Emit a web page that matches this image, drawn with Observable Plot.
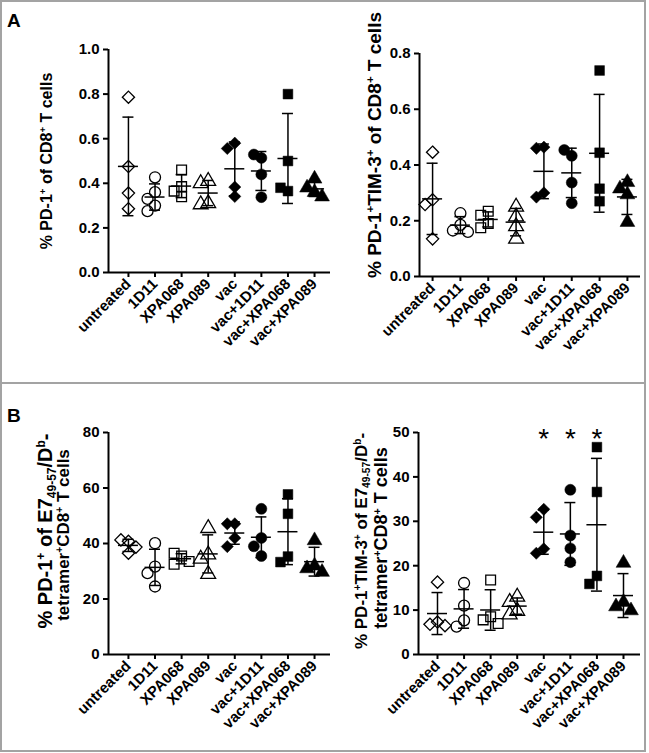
<!DOCTYPE html>
<html><head><meta charset="utf-8">
<script src="https://cdn.jsdelivr.net/npm/d3@7"></script>
<script src="https://cdn.jsdelivr.net/npm/@observablehq/plot@0.6"></script>
<style>
body{margin:0;background:#fff;}
#fig{position:relative;width:649px;height:753px;font-family:"Liberation Sans",Arial,Helvetica,sans-serif;font-weight:bold;color:#000;overflow:hidden;background:#fff}
.frame{position:absolute;pointer-events:none;background:#a3a3a3;z-index:5}
.ylab{position:absolute;white-space:nowrap;transform:translate(-50%,-50%) rotate(-90deg);text-align:center;line-height:1;z-index:4}
.ylab sup{font-size:60%;line-height:0;vertical-align:0;position:relative;top:-0.6em}
.ylab sub{font-size:60%;line-height:0;vertical-align:0;position:relative;top:0.3em}
.letter{position:absolute;font-size:19px;line-height:1;z-index:4}
</style></head><body><div id="fig"></div>
<script>
// ---- data ----
const groups = ["untreated","1D11","XPA068","XPA089","vac","vac+1D11","vac+XPA068","vac+XPA089"];
const pd1OfCD8 = [
  [0.786,0.475,0.356,0.286],[0.427,0.36,0.33,0.30,0.275],[0.46,0.385,0.365,0.34],[0.41,0.40,0.31,0.305],
  [0.58,0.556,0.383,0.341],[0.514,0.529,0.44,0.338],[0.80,0.50,0.365,0.38],[0.42,0.38,0.36,0.34]];
const pd1Tim3OfCD8 = [
  [0.446,0.275,0.258,0.135],[0.227,0.185,0.165,0.16],[0.234,0.22,0.19,0.175],[0.25,0.215,0.18,0.135],
  [0.464,0.46,0.30,0.285],[0.433,0.454,0.337,0.263],[0.739,0.444,0.27,0.315],[0.338,0.315,0.294,0.195]];
const pd1OfTet = [
  [40.8,41.3,38.7,36.5],[40.1,31.7,29.3,24.5],[35.5,32.5,36.5,33.5],[45.5,36,34.5,29],
  [47.1,47.1,42.0,38.9],[52.5,42,39,35.5],[57.7,50.7,35.3,33.3],[41.1,32,31,29.7]];
const pd1Tim3OfTet = [
  [16.3,7.3,6.8,6.5],[16.1,11.0,7.7,6.3],[16.8,8.5,7.8,7.0],[13.0,11.8,9.8,9.0],
  [32.7,30.9,23.8,22.8],[37.1,26.8,23.9,20.8],[46.7,36.6,17.7,15.9],[20.6,11.8,10.8,9.9]];
const ticksA1 = [0,0.2,0.4,0.6,0.8,1.0];
const ticksA2 = [0,0.2,0.4,0.6,0.8];
const ticksB1 = [0,20,40,60,80];
const ticksB2 = [0,10,20,30,40,50];
const significantB2 = ["vac","vac+1D11","vac+XPA068"];

// ---- styling ----
const FONT = "'Liberation Sans', Arial, Helvetica, sans-serif";
const symbolOf = ["diamond2","circle","square","triangle","diamond2","circle","square","triangle"];
const filledOf = [false,false,false,false,true,true,true,true];
const fig = document.getElementById("fig");

// simple column-scatter: put a point in the first lane with no near neighbour
function lanes(values, pxPerUnit, gap) {
  const placed = [];
  return values.map(v => {
    for (const lane of [0,-1,1,-2,2,-3,3]) {
      if (placed.every(p => p.lane !== lane || Math.abs(p.v - v) * pxPerUnit >= gap)) {
        placed.push({lane, v}); return lane;
      }
    }
    return 0;
  });
}

function panel(o) {
  const plotH = o.height - o.mT - o.mB;
  const plotW = o.width - o.mL - o.mR;
  const pxPerX = plotW / (o.xDomain[1] - o.xDomain[0]);
  const pxPerY = plotH / o.yMax;
  const laneW = 7.5 / pxPerX;
  const points = [];
  o.values.forEach((vals, i) => {
    const ls = lanes(vals, pxPerY, 9);
    vals.forEach((v, k) => points.push({i, v, x: i + ls[k] * laneW, symbol: symbolOf[i], filled: filledOf[i]}));
  });
  const stats = o.values.map((vals, i) => ({i, mean: d3.mean(vals), sd: d3.deviation(vals)}));
  const caps = stats.flatMap(s => [{i: s.i, y: s.mean - s.sd}, {i: s.i, y: s.mean + s.sd}]);
  const meanHalf = 10 / pxPerX, capHalf = 5.5 / pxPerX;
  const marks = [
    Plot.axisY({ticks: o.yTicks, tickFormat: o.yFormat, tickSize: 5, tickPadding: 4, strokeWidth: 2, fontSize: 15, label: null}),
    Plot.axisX({ticks: d3.range(groups.length), tickFormat: i => groups[i], tickRotate: -45, tickSize: 5, tickPadding: 4, strokeWidth: 2, fontSize: 15, label: null}),
    Plot.ruleY([0], {strokeWidth: 2}),
    Plot.ruleX([o.xDomain[0]], {y1: 0, y2: o.yMax, strokeWidth: 2}),
    Plot.ruleX(stats, {x: "i", y1: d => d.mean - d.sd, y2: d => d.mean + d.sd, strokeWidth: 1.5}),
    Plot.ruleY(stats, {y: "mean", x1: d => d.i - meanHalf, x2: d => d.i + meanHalf, strokeWidth: 1.5}),
    Plot.ruleY(caps, {y: "y", x1: d => d.i - capHalf, x2: d => d.i + capHalf, strokeWidth: 1.5}),
    Plot.dot(points.filter(d => !d.filled), {x: "x", y: "v", symbol: "symbol", r: 5.5, fill: "none", stroke: "black", strokeWidth: 1.3}),
    Plot.dot(points.filter(d => d.filled), {x: "x", y: "v", symbol: "symbol", r: 5.5, fill: "black", stroke: "black", strokeWidth: 0.5})
  ];
  if (o.stars) marks.push(Plot.text(o.stars, {x: d => groups.indexOf(d), y: o.yMax, text: () => "*", fontSize: 28, fontWeight: "normal", dy: 7}));
  const svg = Plot.plot({
    width: o.width, height: o.height,
    marginLeft: o.mL, marginRight: o.mR, marginTop: o.mT, marginBottom: o.mB,
    x: {type: "linear", domain: o.xDomain},
    y: {type: "linear", domain: [0, o.yMax]},
    symbol: {type: "identity"},
    style: {fontFamily: FONT, fontWeight: "bold", fontSize: "15px", background: "transparent", overflow: "visible", color: "black"},
    marks
  });
  svg.style.position = "absolute";
  svg.style.left = o.left + "px";
  svg.style.top = o.top + "px";
  fig.appendChild(svg);
}

const f1 = d3.format(".1f"), f0 = d3.format("d");
panel({values: pd1OfCD8, yMax: 1.0, yTicks: ticksA1, yFormat: f1, left: 0, top: 0, width: 330, height: 380, mL: 108, mR: 0, mT: 49, mB: 108, xDomain: [-0.75, 7.6]});
panel({values: pd1Tim3OfCD8, yMax: 0.8, yTicks: ticksA2, yFormat: f1, left: 330, top: 0, width: 319, height: 380, mL: 89, mR: 9, mT: 53, mB: 104, xDomain: [-0.47, 7.47]});
panel({values: pd1OfTet, yMax: 80, yTicks: ticksB1, yFormat: f0, left: 0, top: 384, width: 330, height: 369, mL: 108, mR: 0, mT: 48, mB: 99, xDomain: [-0.75, 7.6]});
panel({values: pd1Tim3OfTet, yMax: 50, yTicks: ticksB2, yFormat: f0, left: 330, top: 384, width: 319, height: 369, mL: 88, mR: 9, mT: 48, mB: 99, xDomain: [-0.715, 7.64], stars: significantB2});

// axis titles, panel letters, frame
function html(s) { fig.insertAdjacentHTML("beforeend", s); }
function ylab(x, y, size, content) { html(`<div class="ylab" style="left:${x}px;top:${y}px;font-size:${size}px">${content}</div>`); }
ylab(47, 161, 16, '% PD-1<sup>+</sup> of CD8<sup>+</sup> T cells');
ylab(374, 145, 19, '% PD-1<sup>+</sup>TIM-3<sup>+</sup> of CD8<sup>+</sup> T cells');
ylab(45, 531, 20, '% PD-1<sup>+</sup> of E7<sub>49-57</sub>/D<sup>b</sup>-');
ylab(63, 535, 17, 'tetramer<sup>+</sup>CD8<sup>+</sup> T cells');
ylab(361, 541, 17, '% PD-1<sup>+</sup>TIM-3<sup>+</sup> of E7<sub>49-57</sub>/D<sup>b</sup>-');
ylab(381, 538, 18, 'tetramer<sup>+</sup>CD8<sup>+</sup> T cells');
html('<div class="letter" style="left:7px;top:10.5px">A</div>');
html('<div class="letter" style="left:7px;top:405.5px">B</div>');
html('<div class="frame" style="left:0;top:0;width:646px;height:2px"></div>');
html('<div class="frame" style="left:0;top:750px;width:646px;height:2px"></div>');
html('<div class="frame" style="left:0;top:0;width:2px;height:752px"></div>');
html('<div class="frame" style="left:644px;top:0;width:2px;height:752px"></div>');
html('<div class="frame" style="left:0;top:382px;width:646px;height:2px"></div>');
</script></body></html>
